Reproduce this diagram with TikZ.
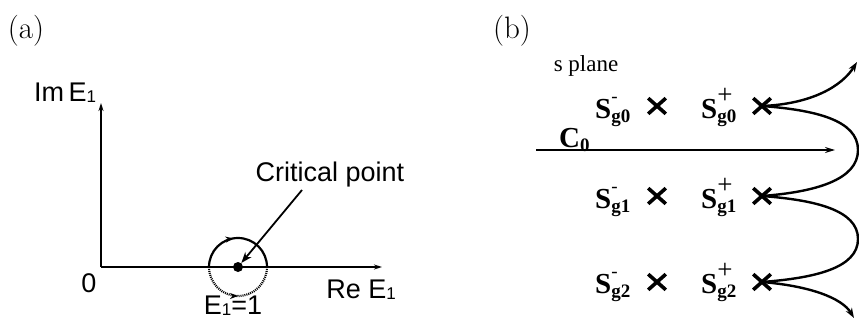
\documentclass[tikz,border=0pt]{standalone}
\usepackage{fontspec}
\usetikzlibrary{arrows.meta,shapes.misc,decorations.markings}
\newfontfamily\asans{Liberation Sans}
\newfontfamily\tserif{Liberation Serif}
\newcommand\Eone{E\raisebox{-1pt}{\fontsize{17}{17}\selectfont 1}}
\newcommand\SPM[2]{{\fontsize{29}{32}\selectfont\tserif\bfseries S}\rlap{#1}\raisebox{-4pt}{\fontsize{19}{21}\selectfont\tserif\bfseries g#2}}
\newcommand\minussup{\raisebox{16pt}{\fontsize{19}{21}\selectfont\tserif -}}
\newcommand\plussup{\raisebox{15pt}{\fontsize{27}{29}\selectfont\tserif +}}
\begin{document}
\begin{tikzpicture}[x=1pt,y=1pt,
  panel/.style={font=\fontsize{31}{34}\selectfont, inner sep=0},
  alab/.style={font=\fontsize{27}{30}\selectfont\asans, inner sep=0},
  blab/.style={inner sep=0, anchor=base west},
  axis/.style={line width=1.5pt, -{Stealth[length=8pt,width=5pt]}},
  pole/.style={cross out, draw, line width=3.6pt, minimum width=14pt, minimum height=12pt, inner sep=0},
  contour/.style={line width=2.4pt},
  tip/.style={-{Stealth[length=10pt,width=7pt]}},
  midarrow/.style={postaction={decorate}, decoration={markings, mark=at position #1 with {\arrow{Stealth[length=8pt,width=6pt]}}}}
]
\useasboundingbox (0,0) rectangle (859,322);
% ---------- panel (a)
\node[panel] (la) at (26,291) {(a)};
\coordinate (O) at (101,55);
\coordinate (ytop) at (101,219);
\coordinate (xend) at (382,55);
\draw[axis] (O) -- (ytop);
\draw[axis] (O) -- (xend);
\node[alab] (im) at (65,229) {Im\,\Eone};
\node[alab] (zero) at (89,39) {0};
\node[alab] (re) at (361,32) {Re \Eone};
\node[circle, fill, minimum size=10pt, inner sep=0] (cp) at (238,55) {};
\draw[line width=2.2pt, midarrow=0.45] (cp.center) ++(-29,0) arc[start angle=180, end angle=0, radius=29];
\draw[line width=2.2pt, dash pattern=on 1pt off 1pt, midarrow=0.5] (cp.center) ++(-29,0) arc[start angle=180, end angle=360, radius=29];
\node[alab] (e1) at (233,16) {\Eone=1};
\node[alab] (crit) at (330,147) {Critical point};
\coordinate (critfoot) at (302,132);
\draw[line width=1.8pt, -{Stealth[length=11pt,width=8pt]}] (critfoot) -- (cp);
% ---------- panel (b)
\node[panel] (lb) at (512,291) {(b)};
\node[inner sep=0, font=\fontsize{23}{26}\selectfont\tserif] (sp) at (586,256) {s plane};
\coordinate (c0s) at (536,172);
\coordinate (c0e) at (835,172);
\draw[line width=1.5pt, -{Stealth[length=10pt,width=6pt]}] (c0s) -- (c0e);
\node[blab] (c0) at (559,175) {{\fontsize{29}{32}\selectfont\tserif\bfseries C}\raisebox{-4pt}{\fontsize{19}{21}\selectfont\tserif\bfseries 0}};
% poles
\node[pole] (m0) at (657,216) {};
\node[pole] (p0) at (762,216) {};
\node[pole] (m1) at (657,126) {};
\node[pole] (p1) at (762,126) {};
\node[pole] (m2) at (657,40) {};
\node[pole] (p2) at (762,40) {};
\node[blab] (lm0) at (595,204) {\SPM{\minussup}{0}};
\node[blab] (lp0) at (701,204) {\SPM{\plussup}{0}};
\node[blab] (lm1) at (595,114) {\SPM{\minussup}{1}};
\node[blab] (lp1) at (701,114) {\SPM{\plussup}{1}};
\node[blab] (lm2) at (595,29) {\SPM{\minussup}{2}};
\node[blab] (lp2) at (701,29) {\SPM{\plussup}{2}};
% contour
\coordinate (ctop) at (857,260);
\coordinate (cb1) at (858,172);
\coordinate (cb2) at (858,83);
\coordinate (cbot) at (854,4);
\draw[contour, tip] (p0.center) .. controls (812,218) and (842,236) .. (ctop);
\draw[contour] (p0.center) .. controls (815,212) and (858,202) .. (cb1)
  .. controls (858,142) and (815,130) .. (p1.center);
\draw[contour] (p1.center) .. controls (815,122) and (858,112) .. (cb2)
  .. controls (858,54) and (815,44) .. (p2.center);
\draw[contour, tip] (p2.center) .. controls (810,36) and (842,24) .. (cbot);
\end{tikzpicture}
\end{document}
